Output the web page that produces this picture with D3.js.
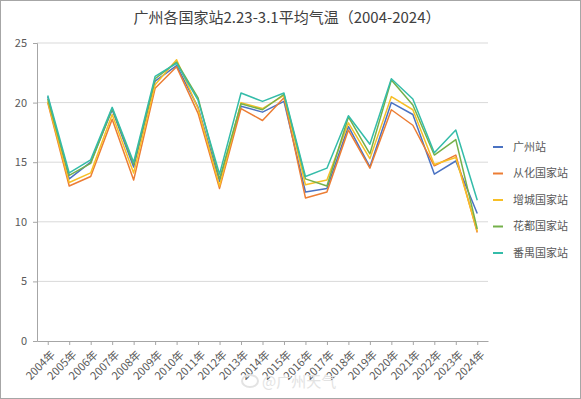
<!DOCTYPE html>
<html>
<head>
<meta charset="utf-8">
<script src="https://cdn.jsdelivr.net/npm/d3@7"></script>
<style>
  body { margin: 0; background: #fff; }
  svg { font-family: "Noto Sans CJK SC", "Noto Sans", sans-serif; }
</style>
</head>
<body>
<svg id="chart" width="581" height="399"></svg>
<script>
// years and station readings (°C)
const years = d3.range(2004, 2025).map(y => y + '年');
const stations = ['广州站', '从化国家站', '增城国家站', '花都国家站', '番禺国家站'];
const gzValues = [20.5, 13.6, 15.0, 19.4, 14.6, 21.8, 23.1, 19.6, 13.4, 19.7, 19.2, 20.1, 12.5, 12.8, 18.0, 14.6, 20.0, 19.0, 14.0, 15.1, 10.7];
const chValues = [20.0, 13.0, 13.8, 18.6, 13.5, 21.2, 23.0, 19.1, 12.8, 19.5, 18.5, 20.4, 12.0, 12.5, 17.7, 14.5, 19.4, 18.1, 14.7, 15.6, 9.1];
const zcValues = [20.1, 13.3, 14.1, 19.0, 14.1, 21.5, 23.6, 19.5, 13.0, 20.0, 19.5, 20.6, 13.1, 13.5, 18.3, 15.3, 20.5, 19.4, 14.8, 15.4, 9.2];
const hdValues = [20.3, 13.9, 14.9, 19.5, 14.8, 22.0, 23.4, 20.4, 13.6, 19.9, 19.4, 20.7, 13.6, 13.0, 18.8, 15.7, 21.9, 19.8, 15.6, 16.9, 9.4];
const pyValues = [20.6, 14.1, 15.2, 19.6, 15.0, 22.2, 23.3, 20.2, 14.0, 20.8, 20.1, 20.8, 13.8, 14.5, 18.9, 16.5, 22.0, 20.3, 15.8, 17.7, 11.8];
const yTicks = [0, 5, 10, 15, 20, 25];
const colors = ['#4a72c2', '#ec7d34', '#f7bf26', '#74b04a', '#34bca9'];

const series = [gzValues, chValues, zcValues, hdValues, pyValues];

const svg = d3.select('#chart');
const margin = { top: 43, right: 93, bottom: 58, left: 37 };
const width = 581 - margin.left - margin.right;
const height = 399 - margin.top - margin.bottom;
const textColor = '#595959';

// frame
svg.append('rect')
  .attr('x', 0.5).attr('y', 0.5)
  .attr('width', 580).attr('height', 398)
  .attr('fill', '#fff').attr('stroke', '#a6a6a6');

svg.append('text')
  .attr('x', 287).attr('y', 23)
  .attr('text-anchor', 'middle')
  .attr('font-size', 15)
  .attr('fill', '#404040')
  .text('广州各国家站2.23-3.1平均气温（2004-2024）');

const chart = svg.append('g')
  .attr('transform', `translate(${margin.left},${margin.top})`);

let x = d3.scalePoint()
  .domain(years)
  .range([0, width])
  .padding(0.5);

let y = d3.scaleLinear()
  .domain([0, 25])
  .range([height, 0]);

// gridlines
chart.append('g')
  .selectAll('line')
  .data(yTicks.filter(d => d > 0))
  .enter()
  .append('line')
  .attr('x1', 0).attr('x2', width)
  .attr('y1', d => y(d)).attr('y2', d => y(d))
  .attr('stroke', '#d9d9d9');

let yAxis = d3.axisLeft(y).tickValues(yTicks).tickSize(4).tickPadding(6);
let xAxis = d3.axisBottom(x).tickSize(4).tickSizeOuter(0);

let gy = chart.append('g').call(yAxis);
gy.select('.domain').attr('stroke', '#a6a6a6');
gy.selectAll('.tick line').attr('stroke', '#a6a6a6');
gy.selectAll('text').attr('font-size', 11).attr('fill', textColor)
  .attr('font-family', '"Noto Sans CJK SC", sans-serif');

let gx = chart.append('g')
  .attr('transform', `translate(0,${height})`)
  .call(xAxis);
gx.select('.domain').attr('stroke', '#a6a6a6');
gx.selectAll('.tick line').attr('stroke', '#a6a6a6');
gx.selectAll('text')
  .attr('font-size', 11).attr('fill', textColor)
  .attr('font-family', '"Noto Sans CJK SC", sans-serif')
  .attr('text-anchor', 'end')
  .attr('transform', 'translate(2,9) rotate(-45)')
  .attr('y', 0).attr('x', 0).attr('dy', '0.7em');

let line = d3.line()
  .x((d, i) => x(years[i]))
  .y(d => y(d));

chart.selectAll('.series')
  .data(series)
  .enter()
  .append('path')
  .attr('class', 'series')
  .attr('d', d => line(d))
  .attr('fill', 'none')
  .attr('stroke', (d, i) => colors[i])
  .attr('stroke-width', 1.5)
  .attr('stroke-linejoin', 'round');

// legend
let legend = svg.append('g')
  .selectAll('g')
  .data(stations)
  .enter()
  .append('g')
  .attr('transform', (d, i) => `translate(493,${147 + i * 26.5})`);

legend.append('line')
  .attr('x1', 0).attr('x2', 10)
  .attr('stroke', (d, i) => colors[i])
  .attr('stroke-width', 2);

legend.append('text')
  .attr('x', 20).attr('dy', '0.35em')
  .attr('font-size', 11).attr('fill', textColor)
  .text(d => d);

// watermark
svg.append('text')
  .attr('x', 262).attr('y', 387)
  .attr('font-size', 15)
  .attr('fill', '#e3e3e3')
  .text('@广州天气');
svg.append('ellipse')
  .attr('cx', 250).attr('cy', 381)
  .attr('rx', 8).attr('ry', 6)
  .attr('fill', 'none').attr('stroke', '#e3e3e3').attr('stroke-width', 2);
</script>
</body>
</html>
